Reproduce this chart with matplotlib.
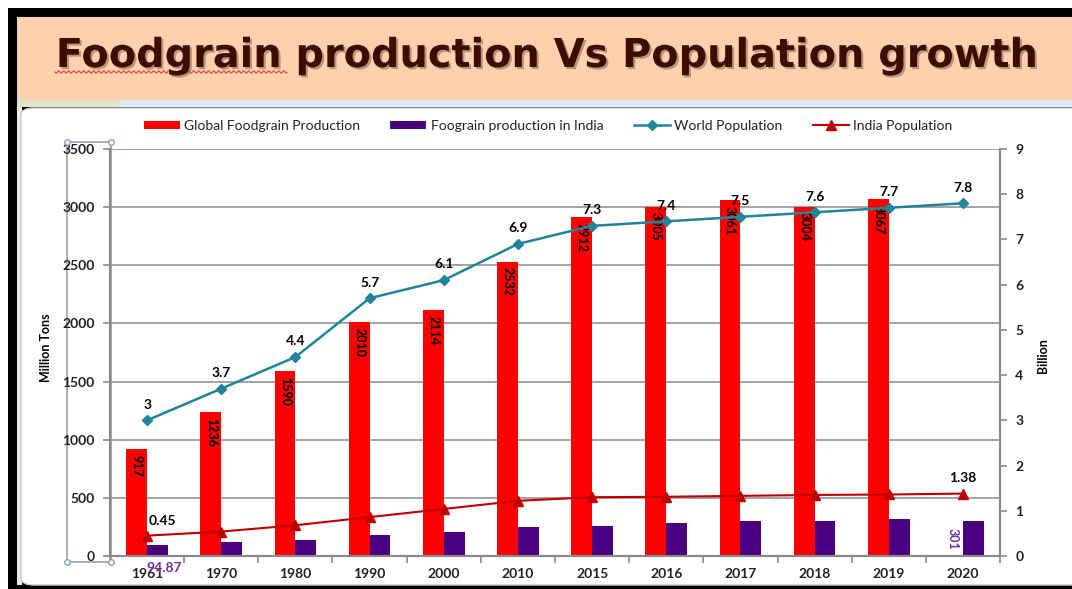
import numpy as np
import matplotlib
matplotlib.use("Agg")
import matplotlib.pyplot as plt
import matplotlib.patheffects as pe
from matplotlib.patches import Rectangle, FancyBboxPatch
from matplotlib.lines import Line2D

# ---- data ----
years = ["1961", "1970", "1980", "1990", "2000", "2010",
         "2015", "2016", "2017", "2018", "2019", "2020"]
global_prod = [917, 1236, 1590, 2010, 2114, 2532, 2912, 3005, 3061, 3004, 3067, np.nan]
india_prod = [94.87, 120, 140, 180, 205, 250, 262, 288, 305, 305, 314, 301]
world_pop = [3, 3.7, 4.4, 5.7, 6.1, 6.9, 7.3, 7.4, 7.5, 7.6, 7.7, 7.8]
india_pop = [0.45, 0.54, 0.68, 0.86, 1.04, 1.22, 1.30, 1.31, 1.33, 1.35, 1.36, 1.38]

W, H = 1072, 589
plt.rcParams["font.family"] = ["Lato", "DejaVu Sans"]

def fx(x):
    return x / W

def fy(y):
    return 1 - y / H

fig = plt.figure(figsize=(W / 100, H / 100), dpi=100)
fig.patch.set_facecolor("white")

# slide frame: black border, peach title band, chart area
fig.patches.append(Rectangle((fx(8), 0), 1, fy(8), transform=fig.transFigure,
                             facecolor="black", edgecolor="none", zorder=0))
fig.patches.append(Rectangle((fx(17), fy(100)), 1, (100 - 17) / H, transform=fig.transFigure,
                             facecolor="#FDD1AD", edgecolor="none", zorder=1))
fig.patches.append(Rectangle((fx(17), fy(107)), 1, 7 / H, transform=fig.transFigure,
                             facecolor="#DDEBF1", edgecolor="none", zorder=1))
fig.patches.append(Rectangle((fx(17), fy(107)), fx(120) - fx(17), 7 / H, transform=fig.transFigure,
                             facecolor="#E2E5CC", edgecolor="none", zorder=1))
fig.patches.append(Rectangle((fx(17), fy(585)), fx(5), (585 - 107) / H, transform=fig.transFigure,
                             facecolor="#E6EEDD", edgecolor="none", zorder=1))
fig.patches.append(FancyBboxPatch((fx(21), fy(585)), 1, (585 - 108) / H,
                                  boxstyle="round,pad=0,rounding_size=0.012",
                                  transform=fig.transFigure, facecolor="white",
                                  edgecolor="#C8CCD0", linewidth=1.0, zorder=1))

# title, sized to span the band like the slide
title = fig.text(fx(547), fy(67), "Foodgrain production Vs Population growth",
                 ha="center", va="baseline", fontsize=28, fontweight="bold",
                 family="DejaVu Sans", color="#3D0C02", zorder=3)
fig.canvas.draw()
tw = title.get_window_extent().width
title.set_fontsize(28 * 980 / tw)
title.set_path_effects([pe.SimplePatchShadow(offset=(1.5, -1.5), shadow_rgbFace="#6b4a3a", alpha=0.45),
                        pe.Normal()])
# spell-check squiggle under "Foodgrain"
sx = np.linspace(55, 287, 200)
sy = 72 + 1.3 * np.sin(sx * 2 * np.pi / 5)
fig.add_artist(Line2D(fx(sx), fy(sy), transform=fig.transFigure, color="#E8403A", lw=0.8, zorder=3))

# axes
ax = fig.add_axes([fx(110), fy(556), fx(1000) - fx(110), (556 - 149) / H], zorder=5)
ax.set_facecolor("none")
ax2 = ax.twinx()

x = np.arange(len(years))
bw = 0.28
b1 = ax.bar(x - bw / 2, global_prod, bw, color="#FF0000", label="Global Foodgrain Production", zorder=2)
b2 = ax.bar(x + bw / 2, india_prod, bw, color="#4B0082", label="Foograin production in India", zorder=2)

l1, = ax2.plot(x, world_pop, color="#1F849C", lw=1.8, marker="D", markersize=5,
               label="World Population", zorder=3)
l2, = ax2.plot(x, india_pop, color="#C00000", lw=1.5, marker="^", markersize=7,
               label="India Population", zorder=3)

ax.set_xlim(-0.5, len(years) - 0.5)
ax.set_ylim(0, 3500)
ax.set_yticks(np.arange(0, 3501, 500))
ax2.set_ylim(0, 9)
ax2.set_yticks(np.arange(0, 10, 1))

ax.set_axisbelow(True)
ax.yaxis.grid(True, color="#9C9C9C", lw=1.3)

spine_c = "#8A8A8A"
for a in (ax, ax2):
    for s in a.spines.values():
        s.set_color(spine_c)
        s.set_linewidth(1.5)
    a.spines["top"].set_visible(False)

ax.set_xticks(x)
ax.set_xticklabels(years)
ax.set_xticks(np.arange(-0.5, len(years), 1), minor=True)
ax.tick_params(axis="x", which="major", length=0, pad=9, labelsize=10, labelcolor="#222222")
ax.tick_params(axis="x", which="minor", length=5, width=1.2, color=spine_c, direction="out")
ax.tick_params(axis="y", length=5, width=1.2, color=spine_c, pad=6, labelsize=10, labelcolor="#222222")
ax2.tick_params(axis="y", length=5, width=1.2, color=spine_c, pad=6, labelsize=10, labelcolor="#222222")
for lab in ax.get_xticklabels() + ax.get_yticklabels() + ax2.get_yticklabels():
    lab.set_fontweight("bold")

# data labels
for xi, v in zip(x, global_prod):
    if np.isnan(v):
        continue
    ax.annotate(f"{v}", (xi - bw / 2, v), xytext=(0, -4), textcoords="offset points",
                ha="center", va="top", rotation=270, fontsize=9, fontweight="bold", color="black")
for xi, v in zip(x, world_pop):
    ax2.annotate(f"{v:g}", (xi, v), xytext=(0, 7), textcoords="offset points",
                 ha="center", va="bottom", fontsize=10, fontweight="bold", color="black", zorder=6)
ax2.annotate(f"{india_pop[0]:g}", (x[0], india_pop[0]), xytext=(11, 6), textcoords="offset points",
             ha="center", va="bottom", fontsize=10, fontweight="bold", color="black")
ax2.annotate(f"{india_pop[-1]:g}", (x[-1], india_pop[-1]), xytext=(0, 7), textcoords="offset points",
             ha="center", va="bottom", fontsize=10, fontweight="bold", color="black")
ax.annotate(f"{india_prod[0]:g}", (x[0] + bw / 2, 0), xytext=(5, -4), textcoords="offset points",
            ha="center", va="top", fontsize=10, fontweight="bold", color="#7030A0",
            annotation_clip=False, zorder=7)
ax.annotate(f"{india_prod[-1]:g}", (x[-1] - bw / 2, india_prod[-1] / 2), xytext=(0, 0),
            textcoords="offset points", ha="center", va="center", rotation=270,
            fontsize=9, fontweight="bold", color="#7030A0")

# axis titles
fig.text(fx(46), fy(348), "Million Tons", rotation=90, ha="center", va="center",
         fontsize=9, fontweight="bold", color="black")
fig.text(fx(1043), fy(356), "Billion", rotation=90, ha="center", va="center",
         fontsize=9, fontweight="bold", color="black")

# selection box around left tick labels
sel_x = [67, 111, 111, 67, 67]
sel_y = [142, 142, 562, 562, 142]
fig.add_artist(Line2D(fx(np.array(sel_x)), fy(np.array(sel_y)), transform=fig.transFigure,
                      color="#9AA0A6", lw=1.2, zorder=2))
fig.add_artist(Line2D(fx(np.array(sel_x[:4])), fy(np.array(sel_y[:4])), transform=fig.transFigure,
                      ls="none", marker="o", markersize=4, markerfacecolor="white",
                      markeredgecolor="#7FA3C4", markeredgewidth=1.0, zorder=8))

# legend
fig.legend(handles=[b1, b2, l1, l2], loc="center", bbox_to_anchor=(fx(548), fy(126)),
           ncol=4, frameon=False, fontsize=10, handlelength=2.6, handleheight=0.55,
           columnspacing=2.2, handletextpad=0.3, labelcolor="#222222")

fig.savefig("out.png", dpi=100)
